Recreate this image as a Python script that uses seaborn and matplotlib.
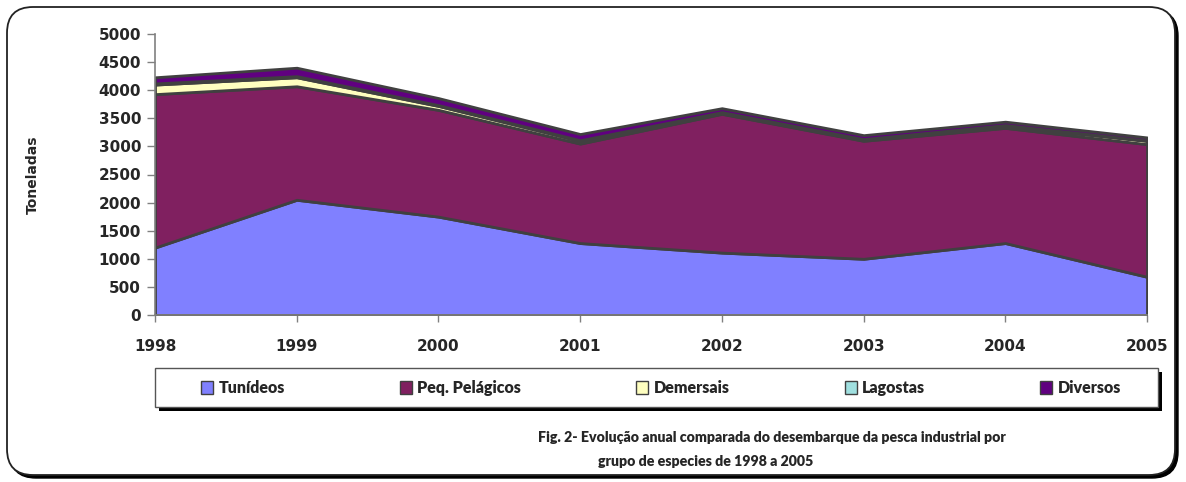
import numpy as np
import pandas as pd
import seaborn as sns
import matplotlib
matplotlib.use("Agg")
import matplotlib.pyplot as plt
from matplotlib.patches import FancyBboxPatch, Rectangle, Patch
from matplotlib.transforms import IdentityTransform

# ---- data ----
years = [1998, 1999, 2000, 2001, 2002, 2003, 2004, 2005]
series_names = ["Tunídeos", "Peq. Pelágicos", "Demersais", "Lagostas", "Diversos"]
tunideos = [1200, 2050, 1750, 1280, 1110, 1000, 1280, 680]
peq_pelagicos = [2730, 2020, 1900, 1770, 2470, 2100, 2050, 2360]
demersais = [170, 160, 70, 50, 20, 20, 40, 60]
lagostas = [20, 20, 15, 10, 10, 10, 10, 5]
diversos = [110, 150, 125, 110, 70, 70, 60, 55]
y_ticks = [0, 500, 1000, 1500, 2000, 2500, 3000, 3500, 4000, 4500, 5000]
y_label = "Toneladas"
caption_1 = "Fig. 2- Evolução anual comparada do desembarque da pesca industrial por"
caption_2 = "grupo de especies de 1998 a 2005"
colors = ["#8080FF", "#802060", "#FFFFC0", "#A0E0E0", "#600080"]

sns.set_theme(style="white")
plt.rcParams['font.family'] = ['DejaVu Sans']

W, H = 1186, 482
fig = plt.figure(figsize=(W / 100, H / 100), dpi=100)
px = IdentityTransform()

def Y(y):
    return H - y

# outer rounded frame with shadow (pixel coordinates)
shadow = FancyBboxPatch((10, Y(478)), 1168, 468,
                        boxstyle="round,pad=0,rounding_size=26",
                        transform=px, facecolor="black", edgecolor="black",
                        linewidth=1, zorder=-3)
frame = FancyBboxPatch((7, Y(475)), 1168, 468,
                       boxstyle="round,pad=0,rounding_size=26",
                       transform=px, facecolor="white", edgecolor="#222222",
                       linewidth=1.3, zorder=-2)
fig.add_artist(shadow)
fig.add_artist(frame)

ax = fig.add_axes([155 / W, (H - 315) / H, (1147 - 155) / W, (315 - 34) / H])
ax.set_facecolor("none")

df = pd.DataFrame({"year": years, series_names[0]: tunideos,
                   series_names[1]: peq_pelagicos, series_names[2]: demersais,
                   series_names[3]: lagostas, series_names[4]: diversos})
palette = sns.color_palette(colors)
vals = [df[n].values for n in series_names]
ax.stackplot(df["year"], *vals, colors=palette, edgecolor="#404040",
             linewidth=2.0)

ax.set_xlim(years[0], years[-1])
ax.set_ylim(0, 5000)
ax.set_yticks(y_ticks)
ax.set_yticklabels([str(v) for v in y_ticks], fontsize=11, fontweight="bold")
ax.set_xticks(years)
ax.set_xticklabels([str(y) for y in years], fontsize=11, fontweight="bold")
ax.tick_params(axis="y", direction="out", length=6, width=1, color="#808080",
               left=True, pad=4)
ax.tick_params(axis="x", direction="out", length=5, width=1, color="#808080",
               bottom=True, pad=12)
for s in ["top", "right"]:
    ax.spines[s].set_visible(False)
for s in ["left", "bottom"]:
    ax.spines[s].set_color("#808080")
    ax.spines[s].set_linewidth(1.2)
ax.set_ylabel(y_label, fontsize=10, fontweight="bold")
ax.yaxis.set_label_coords(-0.116, 0.5)

# legend box with shadow
lx0, ly0, lx1, ly1 = 155, 368, 1158, 407
fig.add_artist(Rectangle((lx0 + 4, Y(ly1 + 4)), lx1 - lx0, ly1 - ly0,
                         transform=px, facecolor="black", edgecolor="black",
                         linewidth=0, zorder=2))
fig.add_artist(Rectangle((lx0, Y(ly1)), lx1 - lx0, ly1 - ly0,
                         transform=px, facecolor="white", edgecolor="#555555",
                         linewidth=1.0, zorder=2.1))

handles = [Patch(facecolor=c, edgecolor="#404040", linewidth=1) for c in palette]
leg = fig.legend(handles, series_names, loc="center",
                 bbox_to_anchor=(661 / W, Y(388) / H),
                 ncol=5, frameon=False, handlelength=0.75,
                 handleheight=0.85, handletextpad=0.35, columnspacing=7.2,
                 borderaxespad=0,
                 prop={"family": "Lato", "weight": "heavy", "size": 11.5})
leg.set_zorder(3)

fig.text(538 / W, Y(438) / H, caption_1, ha="left", va="center",
         fontsize=10.2, fontweight="heavy", family="Lato")
fig.text(598 / W, Y(461) / H, caption_2, ha="left", va="center",
         fontsize=10.2, fontweight="heavy", family="Lato")

fig.savefig("out.png", dpi=100)
